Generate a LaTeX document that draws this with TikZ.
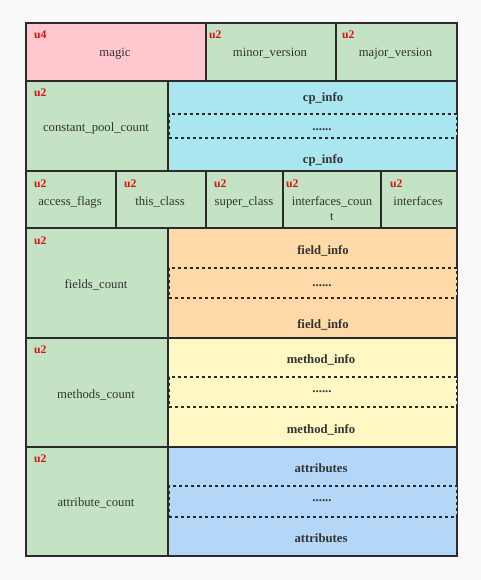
\documentclass[tikz,border=0pt]{standalone}
\usepackage{fontspec}
\setmainfont{Liberation Serif}
\definecolor{bgc}{HTML}{F9F9F9}
\definecolor{linec}{HTML}{2B2B2B}
\definecolor{textc}{HTML}{333333}
\definecolor{tagred}{HTML}{E01010}
\definecolor{pinkc}{HTML}{FFC7CE}
\definecolor{greenc}{HTML}{C4E3C4}
\definecolor{cyanc}{HTML}{A9E6F0}
\definecolor{orangec}{HTML}{FFDAA8}
\definecolor{yellowc}{HTML}{FFF8C4}
\definecolor{bluec}{HTML}{B4D7F8}
\tikzset{
  cell/.style={draw=linec, line width=1.8pt, rectangle, inner sep=0pt, anchor=north west},
  dotband/.style={draw=linec, line width=1.8pt, dash pattern=on 3pt off 3pt, rectangle, inner sep=0pt, anchor=north west},
  lbl/.style={text=textc, font=\fontsize{12.7}{15}\selectfont, anchor=base, inner sep=0pt},
  blbl/.style={text=textc, font=\fontsize{12.7}{15}\selectfont\bfseries, anchor=base, inner sep=0pt},
  tag/.style={text=tagred, font=\fontsize{11.6}{14}\selectfont\bfseries, anchor=base west, inner sep=0pt},
}
\begin{document}
\begin{tikzpicture}[x=1pt,y=-1pt]
\fill[bgc] (0,0) rectangle (481,580);
\useasboundingbox (0,0) rectangle (481,580);
% row 1
\node[cell, fill=pinkc, minimum width=180pt, minimum height=58pt] (magic) at (25,22) {};
\node[cell, fill=greenc, minimum width=130pt, minimum height=58pt] (minor) at (205,22) {};
\node[cell, fill=greenc, minimum width=121pt, minimum height=58pt] (major) at (335,22) {};
% row 2
\node[cell, fill=greenc, minimum width=142pt, minimum height=90pt] (cpc) at (25,80) {};
\node[cell, fill=cyanc, minimum width=289pt, minimum height=90pt] (cp) at (167,80) {};
% row 3
\node[cell, fill=greenc, minimum width=90pt, minimum height=57pt] (af) at (25,170) {};
\node[cell, fill=greenc, minimum width=90pt, minimum height=57pt] (tc) at (115,170) {};
\node[cell, fill=greenc, minimum width=77pt, minimum height=57pt] (sc) at (205,170) {};
\node[cell, fill=greenc, minimum width=98pt, minimum height=57pt] (ic) at (282,170) {};
\node[cell, fill=greenc, minimum width=76pt, minimum height=57pt] (itf) at (380,170) {};
% row 4
\node[cell, fill=greenc, minimum width=142pt, minimum height=110pt] (fc) at (25,227) {};
\node[cell, fill=orangec, minimum width=289pt, minimum height=110pt] (fi) at (167,227) {};
% row 5
\node[cell, fill=greenc, minimum width=142pt, minimum height=109pt] (mc) at (25,337) {};
\node[cell, fill=yellowc, minimum width=289pt, minimum height=109pt] (mi) at (167,337) {};
% row 6
\node[cell, fill=greenc, minimum width=142pt, minimum height=109pt] (ac) at (25,446) {};
\node[cell, fill=bluec, minimum width=289pt, minimum height=109pt] (at) at (167,446) {};
% dotted bands
\node[dotband, fill=cyanc, minimum width=288pt, minimum height=24pt] (cpd) at (168,113) {};
\node[dotband, fill=orangec, minimum width=288pt, minimum height=30pt] (fid) at (168,267) {};
\node[dotband, fill=yellowc, minimum width=288pt, minimum height=30pt] (mid) at (168,376) {};
\node[dotband, fill=bluec, minimum width=288pt, minimum height=31pt] (atd) at (168,485) {};
% tags
\node[tag] (t1) at (34,39) {u4};
\node[tag] (t2) at (209,39) {u2};
\node[tag] (t3) at (342,39) {u2};
\node[tag] (t4) at (34,97) {u2};
\node[tag] (t5) at (34,187) {u2};
\node[tag] (t6) at (124,187) {u2};
\node[tag] (t7) at (214,187) {u2};
\node[tag] (t8) at (286,187) {u2};
\node[tag] (t9) at (390,187) {u2};
\node[tag] (t10) at (34,244) {u2};
\node[tag] (t11) at (34,353.5) {u2};
\node[tag] (t12) at (34,462.7) {u2};
% labels
\node[lbl] (l1) at (115,57) {magic};
\node[lbl] (l2) at (270,57) {minor\_version};
\node[lbl] (l3) at (395.5,57) {major\_version};
\node[lbl] (l4) at (96,131.5) {constant\_pool\_count};
\node[blbl] (b1) at (323,102) {cp\_info};
\node[blbl] (d1) at (322,131) {......};
\node[blbl] (b2) at (323,164) {cp\_info};
\node[lbl] (l5) at (70,205) {access\_flags};
\node[lbl] (l6) at (160,205) {this\_class};
\node[lbl] (l7) at (244,205) {super\_class};
\node[lbl] (l8) at (332,205) {interfaces\_coun};
\node[lbl] (l8b) at (332,220) {t};
\node[lbl] (l9) at (418,205) {interfaces};
\node[lbl] (l10) at (96,288.3) {fields\_count};
\node[blbl] (b3) at (323,254.3) {field\_info};
\node[blbl] (d2) at (322,286.7) {......};
\node[blbl] (b4) at (323,328.3) {field\_info};
\node[lbl] (l11) at (96,398.3) {methods\_count};
\node[blbl] (b5) at (321,363.3) {method\_info};
\node[blbl] (d3) at (322,392.3) {......};
\node[blbl] (b6) at (321,433.3) {method\_info};
\node[lbl] (l12) at (96,506.7) {attribute\_count};
\node[blbl] (b7) at (321,472.3) {attributes};
\node[blbl] (d4) at (322,501.7) {......};
\node[blbl] (b8) at (321,542.3) {attributes};
\end{tikzpicture}
\end{document}
